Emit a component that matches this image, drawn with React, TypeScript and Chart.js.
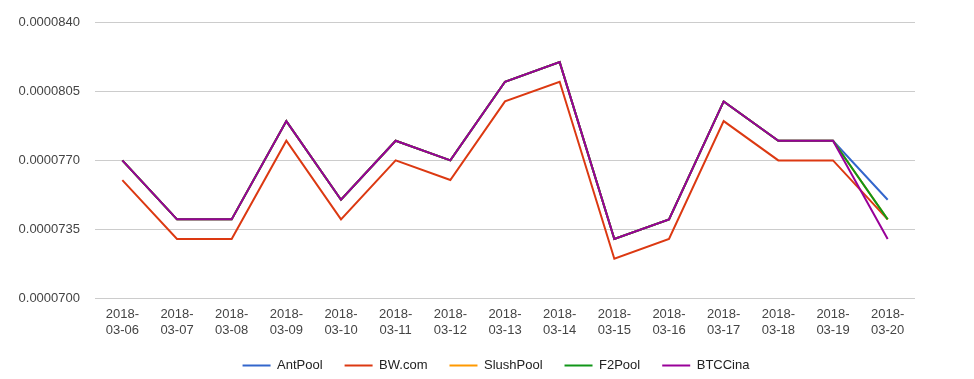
import React, { useEffect, useRef } from "react";
import { Chart, registerables } from "chart.js";

Chart.register(...registerables);

const categories = [
  "2018-03-06", "2018-03-07", "2018-03-08", "2018-03-09", "2018-03-10",
  "2018-03-11", "2018-03-12", "2018-03-13", "2018-03-14", "2018-03-15",
  "2018-03-16", "2018-03-17", "2018-03-18", "2018-03-19", "2018-03-20",
];

const antPool = [0.000077, 0.000074, 0.000074, 0.000079, 0.000075, 0.000078, 0.000077, 0.000081, 0.000082, 0.000073, 0.000074, 0.00008, 0.000078, 0.000078, 0.000075];
const bwCom = [0.000076, 0.000073, 0.000073, 0.000078, 0.000074, 0.000077, 0.000076, 0.00008, 0.000081, 0.000072, 0.000073, 0.000079, 0.000077, 0.000077, 0.000074];
const slushPool = [0.000077, 0.000074, 0.000074, 0.000079, 0.000075, 0.000078, 0.000077, 0.000081, 0.000082, 0.000073, 0.000074, 0.00008, 0.000078, 0.000078, 0.000074];
const f2Pool = [0.000077, 0.000074, 0.000074, 0.000079, 0.000075, 0.000078, 0.000077, 0.000081, 0.000082, 0.000073, 0.000074, 0.00008, 0.000078, 0.000078, 0.000074];
const btcCina = [0.000077, 0.000074, 0.000074, 0.000079, 0.000075, 0.000078, 0.000077, 0.000081, 0.000082, 0.000073, 0.000074, 0.00008, 0.000078, 0.000078, 0.000073];

const seriesNames = ["AntPool", "BW.com", "SlushPool", "F2Pool", "BTCCina"];
const seriesColors = ["#3366cc", "#dc3912", "#ff9900", "#109618", "#990099"];

const yTickValues = [0.00007, 0.0000735, 0.000077, 0.0000805, 0.000084];
const yTickLabels = ["0.0000700", "0.0000735", "0.0000770", "0.0000805", "0.0000840"];

const FONT = "'Liberation Sans', Arial, sans-serif";

const layoutTweak = {
  id: "layoutTweak",
  afterLayout(chart: any) {
    const lg = chart.legend;
    if (lg) {
      lg.left += 9;
      lg.right += 9;
      lg.top += 3;
      lg.bottom += 3;
    }
    const xs = chart.scales.x;
    if (xs) xs.bottom += 8;
  },
};

export default function App() {
  const ref = useRef<HTMLCanvasElement | null>(null);

  useEffect(() => {
    if (!ref.current) return;
    const seriesData = [antPool, bwCom, slushPool, f2Pool, btcCina];
    const chart = new Chart(ref.current, {
      type: "line",
      plugins: [layoutTweak],
      data: {
        labels: categories.map((c) => {
          const i = c.indexOf("-");
          return [c.slice(0, i + 1), c.slice(i + 1)];
        }),
        datasets: seriesNames.map((name, i) => ({
          label: name,
          data: seriesData[i],
          borderColor: seriesColors[i],
          backgroundColor: seriesColors[i],
          borderWidth: 2,
          pointRadius: 0,
          pointHoverRadius: 0,
          tension: 0,
          fill: false,
          order: seriesNames.length - i,
          yAxisID: "y",
        })),
      },
      options: {
        animation: false,
        responsive: true,
        maintainAspectRatio: false,
        layout: { padding: { left: 0, right: 0, top: 19, bottom: 0 } },
        plugins: {
          tooltip: { enabled: false },
          legend: {
            position: "bottom",
            labels: {
              boxWidth: 28,
              boxHeight: 2,
              padding: 22,
              color: "#222",
              font: { family: FONT, size: 13 },
              generateLabels: (ch: any) =>
                ch.data.datasets.map((d: any, i: number) => ({
                  text: d.label,
                  fillStyle: d.borderColor,
                  strokeStyle: d.borderColor,
                  lineWidth: 0,
                  hidden: false,
                  datasetIndex: i,
                  fontColor: "#222",
                })),
            },
          },
        },
        scales: {
          x: {
            offset: true,
            grid: { display: false, drawTicks: false },
            border: { display: false },
            ticks: {
              color: "#444",
              font: { family: FONT, size: 13, lineHeight: 1.23 },
              padding: 8,
              maxRotation: 0,
              autoSkip: false,
            },
            afterFit: (s: any) => {
              s.height = 36;
            },
          },
          y: {
            position: "left",
            min: 0.00007,
            max: 0.000084,
            grid: { color: "#cccccc", lineWidth: 1, drawTicks: false },
            border: { display: false },
            ticks: {
              color: "#444",
              font: { family: FONT, size: 13 },
              padding: 15,
              callback: (_v: any, idx: number) => yTickLabels[idx],
            },
            afterBuildTicks: (s: any) => {
              s.ticks = yTickValues.map((v) => ({ value: v }));
            },
            afterFit: (s: any) => {
              s.width = 95;
            },
          },
          y2: {
            position: "right",
            display: true,
            grid: { display: false },
            border: { display: false },
            ticks: { display: false },
            afterFit: (s: any) => {
              s.width = 59;
            },
          },
        },
      },
    });
    return () => chart.destroy();
  }, []);

  return (
    <div style={{ position: "absolute", left: 0, top: 0, width: 974, height: 379 }}>
      <canvas ref={ref} />
    </div>
  );
}
